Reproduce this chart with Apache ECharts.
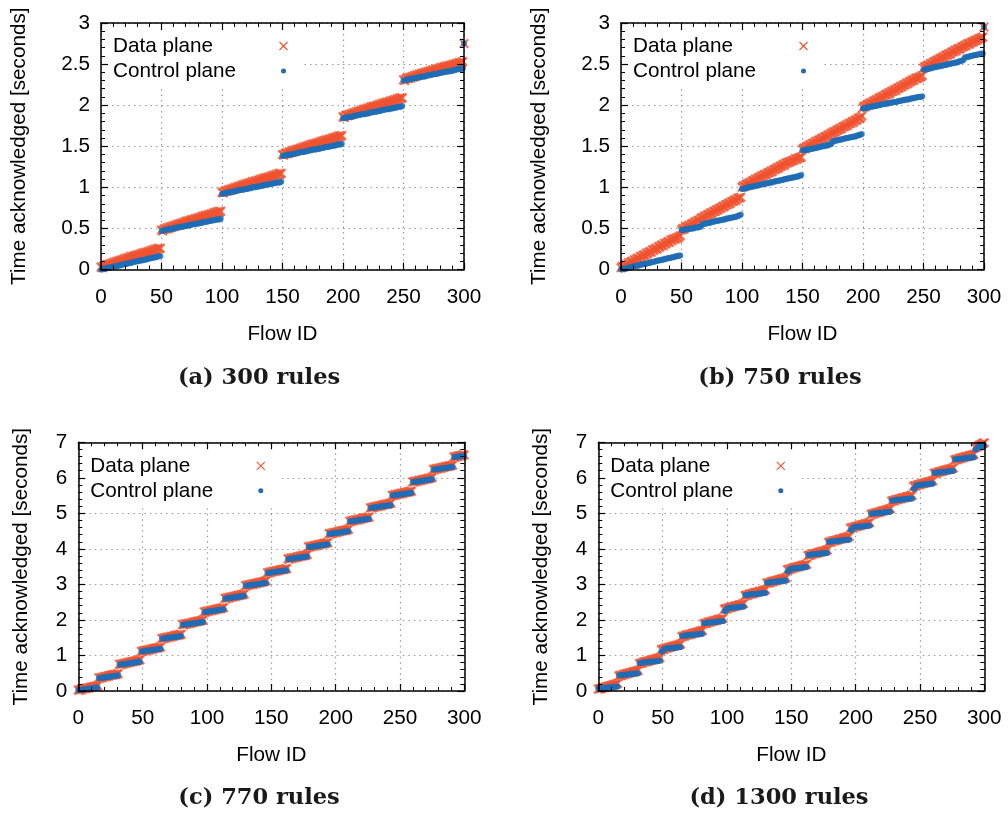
<!DOCTYPE html>
<html><head><meta charset="utf-8">
<script src="https://cdn.jsdelivr.net/npm/echarts@6.0.0/dist/echarts.min.js"></script>
<style>html,body{margin:0;padding:0;background:#fff}#c{width:1008px;height:814px}</style>
</head><body><div id="c"></div>
<script>
// ---------- DATA (index = Flow ID 0..300) ----------
const captions = ['(a) 300 rules', '(b) 750 rules', '(c) 770 rules', '(d) 1300 rules'];
const seriesNames = ['Data plane', 'Control plane'];
const xTicks = [0, 50, 100, 150, 200, 250, 300];
const yTicksTop = [0, 0.5, 1, 1.5, 2, 2.5, 3];
const yTicksBottom = [0, 1, 2, 3, 4, 5, 6, 7];

const dataA = [
0.03,0.02,0.04,0.05,0.04,0.06,0.05,0.07,0.06,0.08,
0.07,0.09,0.08,0.10,0.09,0.11,0.10,0.12,0.11,0.13,
0.12,0.14,0.13,0.15,0.14,0.16,0.15,0.16,0.17,0.16,
0.18,0.17,0.19,0.18,0.20,0.19,0.21,0.20,0.21,0.22,
0.21,0.23,0.22,0.24,0.23,0.25,0.24,0.26,0.25,0.26,
0.48,0.47,0.49,0.50,0.49,0.51,0.50,0.52,0.51,0.53,
0.52,0.54,0.53,0.55,0.54,0.56,0.55,0.57,0.56,0.58,
0.57,0.59,0.58,0.60,0.59,0.61,0.60,0.61,0.62,0.61,
0.63,0.62,0.64,0.63,0.65,0.64,0.66,0.65,0.66,0.67,
0.66,0.68,0.67,0.69,0.68,0.70,0.69,0.71,0.70,0.71,
0.94,0.93,0.95,0.96,0.95,0.97,0.96,0.98,0.97,0.99,
0.98,1.00,0.99,1.01,1.00,1.02,1.01,1.03,1.02,1.04,
1.03,1.05,1.04,1.06,1.05,1.07,1.06,1.07,1.08,1.07,
1.09,1.08,1.10,1.09,1.11,1.10,1.12,1.11,1.12,1.13,
1.12,1.14,1.13,1.15,1.14,1.16,1.15,1.17,1.16,1.17,
1.40,1.39,1.41,1.42,1.41,1.43,1.42,1.44,1.43,1.45,
1.44,1.46,1.45,1.47,1.46,1.48,1.47,1.49,1.48,1.50,
1.49,1.51,1.50,1.52,1.51,1.53,1.52,1.53,1.54,1.53,
1.55,1.54,1.56,1.55,1.57,1.56,1.58,1.57,1.58,1.59,
1.58,1.60,1.59,1.61,1.60,1.62,1.61,1.63,1.62,1.63,
1.86,1.85,1.87,1.88,1.87,1.89,1.88,1.90,1.89,1.91,
1.90,1.92,1.91,1.93,1.92,1.94,1.93,1.95,1.94,1.96,
1.95,1.97,1.96,1.98,1.97,1.99,1.98,1.99,2.00,1.99,
2.01,2.00,2.02,2.01,2.03,2.02,2.04,2.03,2.04,2.05,
2.04,2.06,2.05,2.07,2.06,2.08,2.07,2.09,2.08,2.09,
2.31,2.30,2.32,2.33,2.32,2.34,2.33,2.35,2.34,2.36,
2.35,2.37,2.36,2.38,2.37,2.39,2.38,2.39,2.40,2.39,
2.41,2.40,2.42,2.41,2.43,2.42,2.43,2.44,2.43,2.45,
2.44,2.46,2.45,2.46,2.47,2.46,2.48,2.47,2.48,2.49,
2.48,2.50,2.49,2.50,2.51,2.50,2.52,2.51,2.52,2.53,
2.75];
const ctrlA = [
0.00,0.00,0.01,0.01,0.01,0.02,0.02,0.02,0.03,0.03,
0.03,0.04,0.04,0.04,0.05,0.05,0.05,0.06,0.06,0.06,
0.07,0.07,0.07,0.08,0.08,0.08,0.09,0.09,0.09,0.10,
0.10,0.10,0.11,0.11,0.11,0.12,0.12,0.12,0.13,0.13,
0.13,0.14,0.14,0.14,0.15,0.15,0.15,0.16,0.16,0.16,
0.47,0.47,0.48,0.48,0.48,0.49,0.49,0.49,0.49,0.50,
0.50,0.50,0.51,0.51,0.51,0.52,0.52,0.52,0.52,0.53,
0.53,0.53,0.54,0.54,0.54,0.55,0.55,0.55,0.55,0.56,
0.56,0.56,0.57,0.57,0.57,0.58,0.58,0.58,0.58,0.59,
0.59,0.59,0.60,0.60,0.60,0.61,0.61,0.61,0.61,0.62,
0.92,0.92,0.93,0.93,0.93,0.94,0.94,0.94,0.94,0.95,
0.95,0.95,0.96,0.96,0.96,0.97,0.97,0.97,0.97,0.98,
0.98,0.98,0.99,0.99,0.99,1.00,1.00,1.00,1.00,1.01,
1.01,1.01,1.02,1.02,1.02,1.03,1.03,1.03,1.03,1.04,
1.04,1.04,1.05,1.05,1.05,1.06,1.06,1.06,1.06,1.07,
1.38,1.38,1.39,1.39,1.39,1.40,1.40,1.40,1.40,1.41,
1.41,1.41,1.42,1.42,1.42,1.43,1.43,1.43,1.43,1.44,
1.44,1.44,1.45,1.45,1.45,1.46,1.46,1.46,1.46,1.47,
1.47,1.47,1.48,1.48,1.48,1.49,1.49,1.49,1.49,1.50,
1.50,1.50,1.51,1.51,1.51,1.52,1.52,1.52,1.52,1.53,
1.84,1.84,1.85,1.85,1.85,1.86,1.86,1.86,1.86,1.87,
1.87,1.87,1.88,1.88,1.88,1.89,1.89,1.89,1.89,1.90,
1.90,1.90,1.91,1.91,1.91,1.92,1.92,1.92,1.92,1.93,
1.93,1.93,1.94,1.94,1.94,1.95,1.95,1.95,1.95,1.96,
1.96,1.96,1.97,1.97,1.97,1.98,1.98,1.98,1.98,1.99,
2.30,2.30,2.31,2.31,2.31,2.32,2.32,2.32,2.32,2.33,
2.33,2.33,2.34,2.34,2.34,2.35,2.35,2.35,2.35,2.36,
2.36,2.36,2.37,2.37,2.37,2.38,2.38,2.38,2.38,2.39,
2.39,2.39,2.40,2.40,2.40,2.41,2.41,2.41,2.41,2.42,
2.42,2.42,2.43,2.43,2.43,2.44,2.44,2.44,2.44,2.45,
2.75];

const dataB = [
0.02,0.04,0.03,0.05,0.06,0.05,0.08,0.07,0.09,0.10,
0.09,0.12,0.11,0.13,0.14,0.13,0.16,0.15,0.17,0.18,
0.17,0.20,0.19,0.21,0.22,0.21,0.24,0.23,0.25,0.26,
0.25,0.28,0.27,0.29,0.30,0.29,0.32,0.31,0.33,0.34,
0.33,0.36,0.35,0.37,0.37,0.37,0.39,0.38,0.40,0.41,
0.48,0.50,0.49,0.51,0.52,0.52,0.54,0.53,0.55,0.56,
0.56,0.58,0.57,0.59,0.60,0.60,0.62,0.63,0.63,0.65,
0.64,0.66,0.67,0.67,0.69,0.68,0.70,0.71,0.71,0.73,
0.72,0.74,0.75,0.75,0.77,0.76,0.78,0.79,0.79,0.81,
0.80,0.82,0.83,0.83,0.85,0.84,0.86,0.87,0.87,0.88,
1.00,1.02,1.01,1.03,1.04,1.04,1.06,1.05,1.07,1.08,
1.08,1.10,1.09,1.11,1.12,1.12,1.14,1.13,1.15,1.16,
1.15,1.17,1.18,1.18,1.20,1.19,1.21,1.22,1.22,1.24,
1.23,1.25,1.26,1.26,1.28,1.27,1.29,1.30,1.30,1.31,
1.31,1.32,1.33,1.33,1.35,1.34,1.35,1.36,1.36,1.37,
1.46,1.48,1.47,1.49,1.50,1.50,1.52,1.51,1.53,1.54,
1.54,1.56,1.55,1.57,1.58,1.58,1.60,1.59,1.61,1.62,
1.62,1.64,1.63,1.65,1.66,1.66,1.68,1.67,1.69,1.70,
1.70,1.72,1.71,1.73,1.74,1.74,1.76,1.75,1.77,1.78,
1.78,1.80,1.79,1.81,1.82,1.82,1.84,1.84,1.85,1.87,
1.97,1.99,1.98,2.00,2.01,2.01,2.03,2.02,2.04,2.05,
2.05,2.07,2.06,2.08,2.09,2.09,2.11,2.10,2.12,2.13,
2.13,2.15,2.14,2.16,2.17,2.17,2.19,2.18,2.20,2.21,
2.21,2.23,2.22,2.24,2.25,2.25,2.27,2.26,2.28,2.29,
2.29,2.31,2.30,2.32,2.33,2.32,2.34,2.34,2.35,2.36,
2.45,2.47,2.46,2.48,2.49,2.49,2.51,2.50,2.52,2.53,
2.53,2.55,2.54,2.56,2.57,2.57,2.59,2.58,2.60,2.61,
2.61,2.63,2.62,2.64,2.65,2.65,2.67,2.66,2.68,2.69,
2.68,2.70,2.71,2.71,2.73,2.72,2.74,2.75,2.74,2.76,
2.77,2.77,2.78,2.79,2.79,2.80,2.81,2.81,2.82,2.83,
2.95];
const ctrlB = [
0.00,0.00,0.01,0.01,0.01,0.02,0.02,0.02,0.03,0.03,
0.04,0.04,0.04,0.05,0.05,0.05,0.06,0.06,0.06,0.07,
0.07,0.07,0.08,0.08,0.08,0.09,0.09,0.09,0.10,0.10,
0.11,0.11,0.11,0.12,0.12,0.12,0.13,0.13,0.13,0.14,
0.14,0.14,0.15,0.15,0.15,0.16,0.16,0.16,0.17,0.17,
0.48,0.48,0.48,0.49,0.49,0.49,0.49,0.50,0.50,0.50,
0.50,0.51,0.51,0.51,0.51,0.52,0.52,
0.55,0.55,0.56,0.56,0.56,0.57,0.57,0.57,0.58,0.58,
0.58,0.59,0.59,0.59,0.60,0.60,0.60,0.61,0.61,0.61,
0.62,0.62,0.62,0.63,0.63,0.63,0.64,0.64,0.64,0.65,
0.65,0.66,0.67,
0.98,0.98,0.99,0.99,0.99,1.00,1.00,1.00,1.01,1.01,
1.01,1.02,1.02,1.02,1.03,1.03,1.03,1.04,1.04,1.04,
1.05,1.05,1.05,1.06,1.06,1.06,1.07,1.07,1.07,1.08,
1.08,1.08,1.09,1.09,1.09,1.10,1.10,1.10,1.11,1.11,
1.11,1.12,1.12,1.12,1.13,1.13,1.13,1.14,1.14,1.15,
1.45,1.45,1.45,1.46,1.46,1.46,1.46,1.47,1.47,1.47,
1.48,1.48,1.48,1.49,1.49,1.49,1.50,1.50,1.50,1.51,
1.51,1.51,1.52,1.52,1.53,
1.56,1.56,1.57,1.57,1.57,1.58,1.58,1.58,1.59,1.59,
1.59,1.60,1.60,1.60,1.61,1.61,1.61,1.62,1.62,1.62,
1.63,1.63,1.64,1.64,1.65,
1.96,1.96,1.97,1.97,1.97,1.98,1.98,1.98,1.98,1.99,
1.99,1.99,2.00,2.00,2.00,2.01,2.01,2.01,2.01,2.02,
2.02,2.02,2.03,2.03,2.03,2.04,2.04,2.04,2.04,2.05,
2.05,2.05,2.06,2.06,2.06,2.07,2.07,2.07,2.07,2.08,
2.08,2.08,2.09,2.09,2.09,2.10,2.10,2.10,2.10,2.11,
2.43,2.43,2.44,2.44,2.44,2.45,2.45,2.45,2.46,2.46,
2.46,2.47,2.47,2.47,2.48,2.48,2.48,2.49,2.49,2.49,
2.50,2.50,2.50,2.51,2.51,2.51,2.52,2.52,2.52,2.53,
2.53,2.54,2.54,2.55,
2.58,2.58,2.59,2.59,2.59,2.60,2.60,2.60,2.61,2.61,2.61,2.62,2.62,2.62,2.63,2.63,
2.95];

const dataC = [
0.03,0.02,0.05,0.04,0.06,0.07,0.06,0.09,0.08,0.10,0.11,0.11,0.13,0.12,0.14,0.15,
0.37,0.36,0.39,0.38,0.40,0.41,0.40,0.43,0.42,0.44,0.45,0.45,0.47,0.46,0.48,0.49,
0.75,0.74,0.77,0.76,0.78,0.79,0.78,0.81,0.80,0.82,0.83,0.83,0.85,0.84,0.86,0.87,0.88,
1.12,1.11,1.14,1.13,1.15,1.16,1.15,1.18,1.17,1.19,1.20,1.20,1.22,1.21,1.23,1.24,
1.48,1.47,1.50,1.49,1.51,1.52,1.51,1.54,1.53,1.55,1.56,1.56,1.58,1.57,1.59,1.60,
1.87,1.86,1.89,1.88,1.90,1.91,1.90,1.93,1.92,1.94,1.95,1.95,1.97,1.96,1.98,1.99,2.00,
2.23,2.22,2.25,2.24,2.26,2.27,2.26,2.29,2.28,2.30,2.31,2.31,2.33,2.32,2.34,2.35,
2.61,2.60,2.63,2.62,2.64,2.65,2.64,2.67,2.66,2.68,2.69,2.69,2.71,2.70,2.72,2.73,
2.97,2.96,2.99,2.98,3.00,3.01,3.00,3.03,3.02,3.04,3.05,3.05,3.07,3.06,3.08,3.09,3.10,
3.33,3.32,3.35,3.34,3.36,3.37,3.36,3.39,3.38,3.40,3.41,3.41,3.43,3.42,3.44,3.45,
3.72,3.71,3.74,3.73,3.75,3.76,3.75,3.78,3.77,3.79,3.80,3.80,3.82,3.81,3.83,3.84,
4.06,4.05,4.08,4.07,4.09,4.10,4.09,4.12,4.11,4.13,4.14,4.14,4.16,4.15,4.17,4.18,
4.43,4.42,4.45,4.44,4.46,4.47,4.46,4.49,4.48,4.50,4.51,4.51,4.53,4.52,4.54,4.55,
4.78,4.77,4.80,4.79,4.81,4.82,4.81,4.84,4.83,4.85,4.86,4.86,4.88,4.87,4.89,4.90,
5.16,5.15,5.18,5.17,5.19,5.20,5.19,5.22,5.21,5.23,5.24,5.24,5.26,5.25,5.27,5.28,5.29,
5.51,5.50,5.53,5.52,5.54,5.55,5.54,5.57,5.56,5.58,5.59,5.59,5.61,5.60,5.62,5.63,
5.89,5.88,5.91,5.90,5.92,5.93,5.92,5.95,5.94,5.96,5.97,5.97,5.99,5.98,6.00,6.01,
6.24,6.23,6.26,6.25,6.27,6.28,6.27,6.30,6.29,6.31,6.32,6.32,6.34,6.33,6.35,6.36,
6.59,6.58,6.61,6.60,6.62,6.63,6.62,6.65,6.64];
const ctrlC = [
0.02,0.03,0.03,0.04,0.04,0.05,0.05,0.06,0.06,0.07,0.07,0.08,0.08,0.09,0.09,0.10,
0.36,0.37,0.37,0.38,0.38,0.39,0.39,0.40,0.40,0.41,0.41,0.42,0.42,0.43,0.43,0.44,
0.74,0.75,0.75,0.76,0.76,0.77,0.77,0.78,0.78,0.79,0.79,0.80,0.80,0.81,0.81,0.82,0.82,
1.11,1.12,1.12,1.13,1.13,1.14,1.14,1.15,1.15,1.16,1.16,1.17,1.17,1.18,1.18,1.19,
1.47,1.48,1.48,1.49,1.49,1.50,1.50,1.51,1.51,1.52,1.52,1.53,1.53,1.54,1.54,1.55,
1.86,1.87,1.87,1.88,1.88,1.89,1.89,1.90,1.90,1.91,1.91,1.92,1.92,1.93,1.93,1.94,1.94,
2.22,2.23,2.23,2.24,2.24,2.25,2.25,2.26,2.26,2.27,2.27,2.28,2.28,2.29,2.29,2.30,
2.60,2.61,2.61,2.62,2.62,2.63,2.63,2.64,2.64,2.65,2.65,2.66,2.66,2.67,2.67,2.68,
2.96,2.97,2.97,2.98,2.98,2.99,2.99,3.00,3.00,3.01,3.01,3.02,3.02,3.03,3.03,3.04,3.04,
3.32,3.33,3.33,3.34,3.34,3.35,3.35,3.36,3.36,3.37,3.37,3.38,3.38,3.39,3.39,3.40,
3.71,3.72,3.72,3.73,3.73,3.74,3.74,3.75,3.75,3.76,3.76,3.77,3.77,3.78,3.78,3.79,
4.05,4.06,4.06,4.07,4.07,4.08,4.08,4.09,4.09,4.10,4.10,4.11,4.11,4.12,4.12,4.13,
4.42,4.43,4.43,4.44,4.44,4.45,4.45,4.46,4.46,4.47,4.47,4.48,4.48,4.49,4.49,4.50,
4.77,4.78,4.78,4.79,4.79,4.80,4.80,4.81,4.81,4.82,4.82,4.83,4.83,4.84,4.84,4.85,
5.15,5.16,5.16,5.17,5.17,5.18,5.18,5.19,5.19,5.20,5.20,5.21,5.21,5.22,5.22,5.23,5.23,
5.50,5.51,5.51,5.52,5.52,5.53,5.53,5.54,5.54,5.55,5.55,5.56,5.56,5.57,5.57,5.58,
5.88,5.89,5.89,5.90,5.90,5.91,5.91,5.92,5.92,5.93,5.93,5.94,5.94,5.95,5.95,5.96,
6.23,6.24,6.24,6.25,6.25,6.26,6.26,6.27,6.27,6.28,6.28,6.29,6.29,6.30,6.30,6.31,
6.58,6.59,6.59,6.60,6.60,6.61,6.61,6.62,6.62];

const dataD = [
0.05,0.07,0.06,0.09,0.10,0.10,0.12,0.12,0.14,0.15,0.15,0.17,0.18,0.18,0.20,0.21,
0.42,0.44,0.43,0.46,0.47,0.47,0.49,0.49,0.51,0.52,0.52,0.54,0.55,0.55,0.57,0.58,
0.77,0.79,0.78,0.81,0.82,0.82,0.84,0.84,0.86,0.87,0.87,0.89,0.90,0.90,0.92,0.93,0.94,
1.16,1.18,1.17,1.20,1.21,1.21,1.23,1.23,1.25,1.26,1.26,1.28,1.29,1.29,1.31,1.32,
1.53,1.55,1.54,1.57,1.58,1.58,1.60,1.60,1.62,1.63,1.63,1.65,1.66,1.66,1.68,1.69,1.70,
1.89,1.91,1.90,1.93,1.94,1.94,1.96,1.96,1.98,1.99,1.99,2.01,2.02,2.02,2.04,2.05,
2.30,2.32,2.31,2.34,2.35,2.35,2.37,2.37,2.39,2.40,2.40,2.42,2.43,2.43,2.45,2.46,
2.68,2.70,2.69,2.72,2.73,2.73,2.75,2.75,2.77,2.78,2.78,2.80,2.81,2.81,2.83,2.84,2.85,
3.03,3.05,3.04,3.07,3.08,3.08,3.10,3.10,3.12,3.13,3.13,3.15,3.16,3.16,3.18,3.19,
3.41,3.43,3.42,3.45,3.46,3.46,3.48,3.48,3.50,3.51,3.51,3.53,3.54,3.54,3.56,3.57,
3.81,3.83,3.82,3.85,3.86,3.86,3.88,3.88,3.90,3.91,3.91,3.93,3.94,3.94,3.96,3.97,
4.18,4.20,4.19,4.22,4.23,4.23,4.25,4.25,4.27,4.28,4.28,4.30,4.31,4.31,4.33,4.34,4.35,
4.58,4.60,4.59,4.62,4.63,4.63,4.65,4.65,4.67,4.68,4.68,4.70,4.71,4.71,4.73,4.74,
4.97,4.99,4.98,5.01,5.02,5.02,5.04,5.04,5.06,5.07,5.07,5.09,5.10,5.10,5.12,5.13,
5.34,5.36,5.35,5.38,5.39,5.39,5.41,5.41,5.43,5.44,5.44,5.46,5.47,5.47,5.49,5.50,5.51,
5.76,5.78,5.77,5.80,5.81,5.81,5.83,5.83,5.85,5.86,5.86,5.88,5.89,5.89,5.91,5.92,
6.12,6.14,6.13,6.16,6.17,6.17,6.19,6.19,6.21,6.22,6.22,6.24,6.25,6.25,6.27,6.28,
6.50,6.52,6.51,6.54,6.55,6.55,6.57,6.57,6.59,6.60,6.60,6.62,6.63,6.63,6.65,6.66,
6.85,6.87,6.88,6.91,6.93,6.95,6.97,6.99];
const ctrlD = [
0.07,0.07,0.08,0.08,0.09,0.09,0.09,0.10,0.10,0.10,0.11,0.11,0.12,0.12,0.12,0.13,
0.44,0.44,0.45,0.45,0.46,0.46,0.46,0.47,0.47,0.47,0.48,0.48,0.49,0.49,0.49,0.50,
0.79,0.79,0.80,0.80,0.81,0.81,0.81,0.82,0.82,0.82,0.83,0.83,0.84,0.84,0.84,0.85,0.85,
1.11,1.11,1.19,1.19,1.20,1.20,1.20,1.21,1.21,1.21,1.22,1.22,1.23,1.23,1.23,1.24,
1.55,1.55,1.56,1.56,1.57,1.57,1.57,1.58,1.58,1.58,1.59,1.59,1.60,1.60,1.60,1.61,1.61,
1.91,1.91,1.92,1.92,1.93,1.93,1.93,1.94,1.94,1.94,1.95,1.95,1.96,1.96,1.96,1.97,
2.25,2.25,2.33,2.33,2.34,2.34,2.34,2.35,2.35,2.35,2.36,2.36,2.37,2.37,2.37,2.38,
2.70,2.70,2.71,2.71,2.72,2.72,2.72,2.73,2.73,2.73,2.74,2.74,2.75,2.75,2.75,2.76,2.76,
3.05,3.05,3.06,3.06,3.07,3.07,3.07,3.08,3.08,3.08,3.09,3.09,3.10,3.10,3.10,3.11,
3.36,3.36,3.44,3.44,3.45,3.45,3.45,3.46,3.46,3.46,3.47,3.47,3.48,3.48,3.48,3.49,
3.83,3.83,3.84,3.84,3.85,3.85,3.85,3.86,3.86,3.86,3.87,3.87,3.88,3.88,3.88,3.89,
4.20,4.20,4.21,4.21,4.22,4.22,4.22,4.23,4.23,4.23,4.24,4.24,4.25,4.25,4.25,4.26,4.26,
4.53,4.53,4.61,4.61,4.62,4.62,4.62,4.63,4.63,4.63,4.64,4.64,4.65,4.65,4.65,4.66,
4.99,4.99,5.00,5.00,5.01,5.01,5.01,5.02,5.02,5.02,5.03,5.03,5.04,5.04,5.04,5.05,
5.36,5.36,5.37,5.37,5.38,5.38,5.38,5.39,5.39,5.39,5.40,5.40,5.41,5.41,5.41,5.42,5.42,
5.69,5.69,5.79,5.79,5.80,5.80,5.80,5.81,5.81,5.81,5.82,5.82,5.83,5.83,5.83,5.84,
6.14,6.14,6.15,6.15,6.16,6.16,6.16,6.17,6.17,6.17,6.18,6.18,6.19,6.19,6.19,6.20,
6.52,6.52,6.53,6.53,6.54,6.54,6.54,6.55,6.55,6.55,6.56,6.56,6.57,6.57,6.57,6.58,
6.80,6.80,6.88,6.88,6.89,6.89,6.90,6.90];

// ---------- LAYOUT / STYLE ----------
const FONT = '"Liberation Sans", Arial, Helvetica, sans-serif';
const FS = 20.7;
const RED = '#f0532f';
const BLUE = '#1f6db5';
const GRIDCOL = '#999999';
const XSYM = 'path://M0,1.5L1.5,0L5,3.5L8.5,0L10,1.5L6.5,5L10,8.5L8.5,10L5,6.5L1.5,10L0,8.5L3.5,5Z';

const panels = [
  {data: dataA, ctrl: ctrlA, yTicks: yTicksTop, left: 101, top: 23, width: 363, height: 246.5, yGap: 71, maskH: 62, row1: 23, cx: 259, cy: 378},
  {data: dataB, ctrl: ctrlB, yTicks: yTicksTop, left: 621, top: 23, width: 363, height: 246.5, yGap: 71, maskH: 62, row1: 23, cx: 780, cy: 378},
  {data: dataC, ctrl: ctrlC, yTicks: yTicksBottom, left: 78.3, top: 442.3, width: 386, height: 248.7, yGap: 47, maskH: 65, row1: 23.5, cx: 259, cy: 798},
  {data: dataD, ctrl: ctrlD, yTicks: yTicksBottom, left: 598.3, top: 442.3, width: 386, height: 248.7, yGap: 47, maskH: 65, row1: 23.5, cx: 779, cy: 798}
];

const axLine = {show: true, onZero: false, lineStyle: {color: '#000', width: 1.5}};
const axTick = {show: true, inside: true, length: 7, lineStyle: {color: '#000', width: 1.2}};
const axMinor = {show: true, splitNumber: 5, length: 4, lineStyle: {color: '#000', width: 1}};
const labelStyle = {fontSize: FS, fontFamily: FONT, color: '#000'};
const dotted = {show: true, lineStyle: {color: GRIDCOL, width: 1.2, type: [1.5, 4]}};

const grids = [], xAxes = [], yAxes = [], series = [], elements = [];
const warn = [];

panels.forEach((p, i) => {
  if (p.data.length !== 301) warn.push('data' + i + ':' + p.data.length);
  if (p.ctrl.length !== 301) warn.push('ctrl' + i + ':' + p.ctrl.length);
  grids.push({left: p.left, top: p.top, width: p.width, height: p.height, containLabel: false, outerBoundsMode: 'none'});
  const yt = p.yTicks;
  const yMin = yt[0], yMax = yt[yt.length - 1], yInt = yt[1] - yt[0];
  const xMin = xTicks[0], xMax = xTicks[xTicks.length - 1], xInt = xTicks[1] - xTicks[0];
  const xc = {gridIndex: i, type: 'value', min: xMin, max: xMax, interval: xInt};
  const yc = {gridIndex: i, type: 'value', min: yMin, max: yMax, interval: yInt};
  xAxes.push(
    Object.assign({}, xc, {position: 'bottom', z: 5, name: 'Flow ID', nameLocation: 'middle', nameGap: 54,
      nameTextStyle: labelStyle, axisLine: axLine, axisTick: axTick, minorTick: axMinor,
      axisLabel: Object.assign({show: true, margin: 17}, labelStyle), splitLine: {show: false}}),
    Object.assign({}, xc, {position: 'top', z: 5, axisLine: axLine, axisTick: axTick, minorTick: axMinor,
      axisLabel: {show: false}, splitLine: {show: false}}),
    Object.assign({}, xc, {position: 'bottom', z: 0, axisLine: {show: false}, axisTick: {show: false},
      axisLabel: {show: false}, splitLine: dotted})
  );
  yAxes.push(
    Object.assign({}, yc, {position: 'left', z: 5, name: 'Time acknowledged [seconds]', nameLocation: 'middle', nameGap: p.yGap,
      nameTextStyle: labelStyle, axisLine: axLine, axisTick: axTick, minorTick: axMinor,
      axisLabel: Object.assign({show: true, margin: 11}, labelStyle), splitLine: {show: false}}),
    Object.assign({}, yc, {position: 'right', z: 5, axisLine: axLine, axisTick: axTick, minorTick: axMinor,
      axisLabel: {show: false}, splitLine: {show: false}}),
    Object.assign({}, yc, {position: 'left', z: 0, axisLine: {show: false}, axisTick: {show: false},
      axisLabel: {show: false}, splitLine: dotted})
  );
  series.push(
    {type: 'scatter', name: seriesNames[0], xAxisIndex: 3 * i, yAxisIndex: 3 * i, clip: false, z: 3,
     symbol: XSYM, symbolSize: 10, itemStyle: {color: RED}, silent: true,
     data: p.data.map((v, k) => [k, v])},
    {type: 'scatter', name: seriesNames[1], xAxisIndex: 3 * i, yAxisIndex: 3 * i, clip: false, z: 4,
     symbol: 'circle', symbolSize: 6, itemStyle: {color: BLUE}, silent: true,
     data: p.ctrl.map((v, k) => [k, v])}
  );
  // key box (opaque, hides grid lines)
  elements.push({type: 'rect', z: 1, silent: true,
    shape: {x: p.left + 1, y: p.top + 1, width: 201, height: p.maskH}, style: {fill: '#fff'}});
  const r1 = p.top + p.row1, r2 = r1 + 25, sx = p.left + 182.5;
  elements.push(
    {type: 'text', z: 6, x: p.left + 12, y: r1, style: {text: seriesNames[0], fontSize: FS, fontFamily: FONT, fill: '#000', align: 'left', verticalAlign: 'middle'}},
    {type: 'text', z: 6, x: p.left + 12, y: r2, style: {text: seriesNames[1], fontSize: FS, fontFamily: FONT, fill: '#000', align: 'left', verticalAlign: 'middle'}},
    {type: 'line', z: 6, shape: {x1: sx - 4, y1: r1 - 4, x2: sx + 4, y2: r1 + 4}, style: {stroke: RED, lineWidth: 1.1}},
    {type: 'line', z: 6, shape: {x1: sx - 4, y1: r1 + 4, x2: sx + 4, y2: r1 - 4}, style: {stroke: RED, lineWidth: 1.1}},
    {type: 'circle', z: 6, shape: {cx: sx, cy: r2, r: 2.5}, style: {fill: BLUE}},
    {type: 'text', z: 6, x: p.cx, y: p.cy, style: {text: captions[i], fontSize: 22.5, fontWeight: 'bold', fontFamily: '"DejaVu Serif", serif', fill: '#1a1a1a', align: 'center', verticalAlign: 'middle'}}
  );
});
if (warn.length) elements.push({type: 'text', z: 10, x: 400, y: 400, style: {text: 'LEN ' + warn.join(' '), fontSize: 24, fill: 'magenta'}});

const chart = echarts.init(document.getElementById('c'), null, {renderer: 'canvas'});
chart.setOption({
  animation: false,
  backgroundColor: '#fff',
  grid: grids, xAxis: xAxes, yAxis: yAxes, series: series,
  graphic: {elements: elements}
});
</script></body></html>
